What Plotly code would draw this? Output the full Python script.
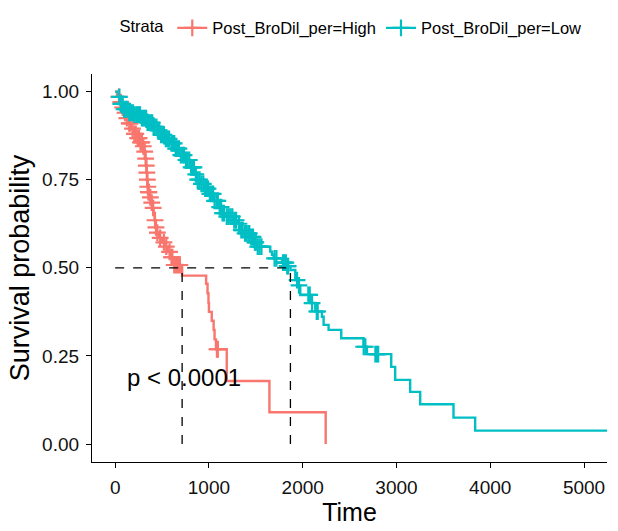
import numpy as np
import plotly.graph_objects as go

# ---- data (Kaplan-Meier steps) ----
high_label = "Post_BroDil_per=High"
low_label = "Post_BroDil_per=Low"

high_time = [0, 20, 45, 70, 95, 120, 145, 170, 200, 230, 260, 290, 310, 320, 330, 335, 340,
             345, 350, 365, 380, 395, 410, 420, 430, 440, 470, 500, 530, 560, 590, 620, 714,
             970, 985, 995, 1000, 1030, 1050, 1060, 1075, 1190, 1645, 2245]
high_surv = [1.0, 0.985, 0.97, 0.955, 0.94, 0.925, 0.91, 0.895, 0.88, 0.868, 0.856, 0.845, 0.83,
             0.81, 0.79, 0.77, 0.75, 0.73, 0.715, 0.70, 0.685, 0.67, 0.655, 0.635, 0.615, 0.60,
             0.585, 0.572, 0.56, 0.545, 0.53, 0.508, 0.478, 0.455, 0.428, 0.40, 0.375, 0.35,
             0.324, 0.297, 0.269, 0.179, 0.09, 0.0]
high_censor = [40, 60, 80, 105, 125, 150, 160, 185, 205, 220, 240, 255, 270, 285, 300, 315,
               325, 332, 338, 343, 348, 355, 360, 375, 390, 405, 425, 435, 450, 480, 520, 545,
               580, 600, 610, 630, 650, 670, 690, 1085, 1095]

low_time = [0, 30, 60, 92, 150, 200, 270, 340, 400, 447, 483, 530, 589, 640, 696, 750, 802,
            850, 873, 909, 950, 1000, 1050, 1100, 1140, 1180, 1264, 1300, 1335, 1380, 1441,
            1480, 1513, 1654, 1672, 1690, 1779, 1832, 1869, 1921, 1950, 1974, 2081, 2134,
            2205, 2223, 2276, 2411, 2649, 2685, 2944, 2986, 3146, 3253, 3608, 3839, 5300]
low_surv = [1.0, 0.985, 0.965, 0.95, 0.94, 0.935, 0.925, 0.912, 0.90, 0.89, 0.877, 0.866,
            0.853, 0.838, 0.82, 0.806, 0.785, 0.765, 0.75, 0.738, 0.725, 0.71, 0.69, 0.672,
            0.655, 0.645, 0.635, 0.625, 0.607, 0.598, 0.588, 0.572, 0.56, 0.546, 0.537, 0.527,
            0.515, 0.505, 0.494, 0.465, 0.45, 0.423, 0.40, 0.376, 0.361, 0.338, 0.324, 0.30,
            0.276, 0.255, 0.219, 0.182, 0.148, 0.113, 0.075, 0.038, 0.038]
low_censor = [45, 60, 80, 95, 115, 130, 150, 170, 190, 205, 225, 240, 255, 265, 285, 300,
              315, 330, 345, 360, 380, 395, 410, 420, 440, 455, 470, 490, 505, 520, 540, 555,
              575, 600, 615, 630, 645, 660, 680, 700, 720, 735, 755, 770, 790, 810, 825, 840,
              860, 880, 900, 920, 940, 960, 975, 990, 1010, 1030, 1045, 1060, 1080, 1095,
              1115, 1130, 1145, 1160, 1190, 1210, 1230, 1250, 1270, 1290, 1320, 1345, 1360,
              1385, 1400, 1420, 1430, 1450, 1470, 1490, 1500, 1520, 1540, 1560, 1700, 1720,
              1790, 1805, 1820, 1835, 1845, 1940, 1960, 2060, 2075, 2100, 2150, 2160, 2650,
              2668, 2775, 2790, 2805]

p_text = "p < 0.0001"
x_ticks = [0, 1000, 2000, 3000, 4000, 5000]
y_ticks = [0.0, 0.25, 0.5, 0.75, 1.0]

RED = "#F8766D"
TEAL = "#00BFC4"
FONT = "Liberation Sans, Arial, sans-serif"


def surv_at(times, surv, ts):
    t = np.asarray(times)
    s = np.asarray(surv)
    idx = np.searchsorted(t, np.asarray(ts), side="right") - 1
    return s[idx]


def median_time(times, surv):
    for t, s in zip(times, surv):
        if s <= 0.5:
            return t
    return None


fig = go.Figure()

for times, surv, col in [(high_time, high_surv, RED), (low_time, low_surv, TEAL)]:
    fig.add_trace(go.Scatter(x=times, y=surv, mode="lines", line=dict(color=col, width=2.4,
                             shape="hv"), showlegend=False, hoverinfo="skip"))

for times, surv, cens, col in [(high_time, high_surv, high_censor, RED),
                                (low_time, low_surv, low_censor, TEAL)]:
    fig.add_trace(go.Scatter(x=cens, y=surv_at(times, surv, cens), mode="markers",
                             marker=dict(symbol="cross-thin", size=12, color=col,
                                         line=dict(color=col, width=2.2)),
                             showlegend=False, hoverinfo="skip"))

# median lines
m_high = median_time(high_time, high_surv)
m_low = median_time(low_time, low_surv)
dash = dict(color="black", width=1.3, dash="dash")
fig.add_trace(go.Scatter(x=[0, max(m_high, m_low)], y=[0.5, 0.5], mode="lines", line=dash,
                         showlegend=False, hoverinfo="skip"))
for m in [m_high, m_low]:
    fig.add_trace(go.Scatter(x=[m, m], y=[0, 0.5], mode="lines", line=dash,
                             showlegend=False, hoverinfo="skip"))

# legend entries
for lab, col in [(high_label, RED), (low_label, TEAL)]:
    fig.add_trace(go.Scatter(x=[None], y=[None], mode="lines+markers", name=lab,
                             line=dict(color=col, width=2.4),
                             marker=dict(symbol="cross-thin", size=12, color=col,
                                         line=dict(color=col, width=2.2))))

fig.add_annotation(x=100, y=0.19, xref="x", yref="y", text=p_text, showarrow=False,
                   xanchor="left", yanchor="middle",
                   font=dict(family=FONT, size=24, color="black"))

axis_common = dict(showline=True, linecolor="black", linewidth=1.2, ticks="outside",
                   ticklen=5, tickwidth=1.2, tickcolor="black", showgrid=False,
                   zeroline=False, ticklabelstandoff=3,
                   tickfont=dict(family=FONT, size=19, color="#111111"))

fig.update_layout(
    width=618, height=531,
    margin=dict(l=92, r=11, t=74, b=69),
    paper_bgcolor="white", plot_bgcolor="white",
    font=dict(family=FONT, color="black"),
    xaxis=dict(range=[-247, 5245], tickvals=x_ticks, ticktext=[str(v) for v in x_ticks],
               title=dict(text="Time", font=dict(family=FONT, size=25, color="black"),
                          standoff=6),
               **axis_common),
    yaxis=dict(range=[-0.051, 1.05], tickvals=y_ticks,
               ticktext=["%.2f" % v for v in y_ticks],
               title=dict(text="Survival probability",
                          font=dict(family=FONT, size=27, color="black"), standoff=4),
               **axis_common),
    legend=dict(orientation="h", xref="container", yref="container", x=0.19, y=0.947,
                xanchor="left", yanchor="middle",
                title=dict(text="Strata", font=dict(family=FONT, size=16.5, color="black")),
                font=dict(family=FONT, size=16.5, color="black"), itemwidth=30),
)

fig.write_html("out.html")
